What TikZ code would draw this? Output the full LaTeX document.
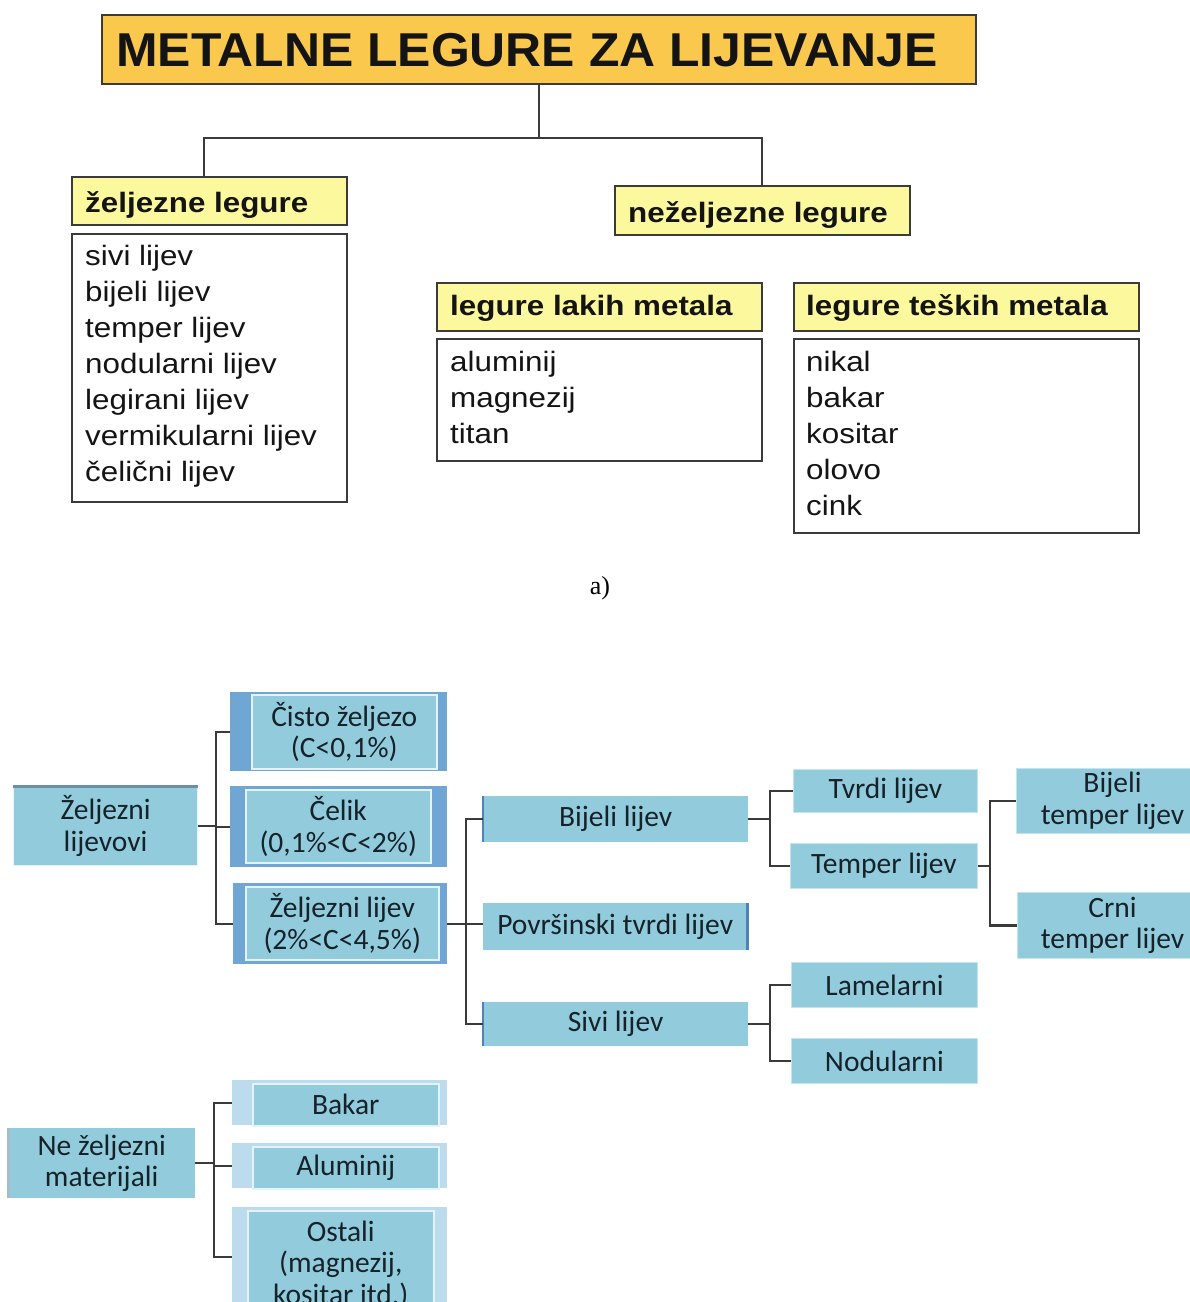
\documentclass[tikz,border=0pt]{standalone}
\usepackage{fontspec}
\newfontfamily\arfont[FakeStretch=1.12]{Liberation Sans}
\newfontfamily\titlefont[FakeStretch=1.05]{Liberation Sans}
\newfontfamily\calfont{Carlito}
\newfontfamily\serfont{Liberation Serif}
\definecolor{gold}{HTML}{F9C84C}
\definecolor{yel}{HTML}{FBF89E}
\definecolor{edge}{HTML}{3B3B3B}
\definecolor{lb}{HTML}{92CCDC}
\definecolor{mb}{HTML}{6FA6D4}
\definecolor{pb}{HTML}{BCDCEE}
\definecolor{wb}{HTML}{E4F3F9}
\definecolor{fb}{HTML}{C6E4EE}
\definecolor{db}{HTML}{4F81BD}
\definecolor{gb}{HTML}{6C8FA8}
\definecolor{ink}{HTML}{16222A}
\definecolor{conncol}{HTML}{3A3A3A}
\begin{document}
\begin{tikzpicture}[x=1pt,y=-1pt,
  tbox/.style={draw=edge,line width=1.6pt,anchor=north west,inner sep=0pt},
  head/.style={anchor=base west,inner sep=0pt,font=\arfont\bfseries\fontsize{28}{34}\selectfont,text=black!92},
  lst/.style={anchor=base west,inner sep=0pt,font=\arfont\fontsize{28}{34}\selectfont,text=black!92},
  topline/.style={draw=edge,line width=1.4pt},
  bb/.style={anchor=north west,inner sep=0pt,align=center,text=ink,font=\calfont\fontsize{29.5}{31.5}\selectfont},
  lbox/.style={bb,fill=lb},
  innerbox/.style={bb,fill=lb,draw=wb,line width=1.5pt},
  flbox/.style={bb,fill=lb,draw=fb,line width=1pt},
  conn/.style={draw=conncol,line width=2.2pt}]
\useasboundingbox (0,0) rectangle (1190,1302);
\clip (0,0) rectangle (1190,1302);
\fill[white] (0,0) rectangle (1190,1302);

% ---------- part a ----------
\node[tbox,fill=gold,minimum width=874pt,minimum height=69pt] (title) at (101,14) {};
\node[anchor=base west,inner sep=0pt,font=\titlefont\bfseries\fontsize{47.5}{50}\selectfont,text=black!92] (ttl) at (116,66) {METALNE LEGURE ZA LIJEVANJE};

\node[tbox,fill=yel,minimum width=275pt,minimum height=48pt] (zlh) at (71,176) {};
\node[head] (zlht) at (85,212) {željezne legure};
\node[tbox,fill=white,minimum width=275pt,minimum height=268pt] (zll) at (71,233) {};
\foreach \t [count=\i] in {sivi lijev,bijeli lijev,temper lijev,nodularni lijev,legirani lijev,vermikularni lijev,čelični lijev}
  \node[lst] (zl\i) at (85,{229+36*\i}) {\t};

\node[tbox,fill=yel,minimum width=295pt,minimum height=49pt] (nzh) at (614,185) {};
\node[head] (nzht) at (628,222) {neželjezne legure};

\node[tbox,fill=yel,minimum width=325pt,minimum height=48pt] (lkh) at (436,282) {};
\node[head] (lkht) at (450,315) {legure lakih metala};
\node[tbox,fill=white,minimum width=325pt,minimum height=122pt] (lkl) at (436,338) {};
\foreach \t [count=\i] in {aluminij,magnezij,titan}
  \node[lst] (lk\i) at (450,{335+36*\i}) {\t};

\node[tbox,fill=yel,minimum width=345pt,minimum height=48pt] (tkh) at (793,282) {};
\node[head] (tkht) at (806,315) {legure teških metala};
\node[tbox,fill=white,minimum width=345pt,minimum height=194pt] (tkl) at (793,338) {};
\foreach \t [count=\i] in {nikal,bakar,kositar,olovo,cink}
  \node[lst] (tk\i) at (806,{335+36*\i}) {\t};

\coordinate (bl) at (204,138);
\coordinate (br) at (762,138);
\draw[topline] (title.south) -- (title.south |- bl);
\draw[topline] (bl |- zlh.north) -- (bl) -- (br) -- (br |- nzh.north);

\node[anchor=base,inner sep=0pt,font=\serfont\fontsize{26}{28}\selectfont] (lab) at (600,594) {a)};

% ---------- part b ----------
\node[lbox,draw=wb,line width=1.2pt,minimum width=184pt,minimum height=79pt] (zlv) at (13,786) {Željezni\\lijevovi};
\draw[gb,line width=3pt] (zlv.north west) -- (zlv.north east);

\node[bb,fill=mb,minimum width=217pt,minimum height=79pt] (cz-o) at (230,692) {};
\node[innerbox,minimum width=185pt,minimum height=74pt] (cz) at (251,694) {Čisto željezo\\(C<0,1\%)};
\node[bb,fill=mb,minimum width=217pt,minimum height=81pt] (cel-o) at (230,786) {};
\node[innerbox,minimum width=185pt,minimum height=73pt] (cel) at (245,789) {Čelik\\(0,1\%<C<2\%)};
\node[bb,fill=mb,minimum width=214pt,minimum height=81pt] (zlj-o) at (233,883) {};
\node[innerbox,minimum width=193pt,minimum height=73pt] (zlj) at (245,886) {Željezni lijev\\(2\%<C<4,5\%)};

\node[lbox,minimum width=265pt,minimum height=46pt] (bl1) at (483,796) {Bijeli lijev};
\draw[db,line width=2.5pt] (bl1.north west) -- (bl1.south west);
\node[lbox,minimum width=264pt,minimum height=47pt] (pov) at (483,903) {Površinski tvrdi lijev};
\draw[db,line width=2.5pt] (pov.north east) -- (pov.south east);
\node[lbox,minimum width=265pt,minimum height=44pt] (sl) at (483,1002) {Sivi lijev};
\draw[db,line width=2.5pt] (sl.north west) -- (sl.south west);

\node[flbox,minimum width=184pt,minimum height=43pt] (tv) at (793,769) {Tvrdi lijev};
\node[flbox,minimum width=187pt,minimum height=45pt] (tl) at (790,843) {Temper lijev};
\node[flbox,minimum width=192pt,minimum height=65pt] (btl) at (1016,768) {Bijeli\\temper lijev};
\node[flbox,minimum width=190pt,minimum height=66pt] (ctl) at (1017,892) {Crni\\temper lijev};
\node[flbox,minimum width=186pt,minimum height=45pt] (lam) at (791,962) {Lamelarni};
\node[flbox,minimum width=186pt,minimum height=45pt] (nod) at (791,1038) {Nodularni};

\node[lbox,minimum width=187pt,minimum height=70pt] (nzm) at (8,1128) {Ne željezni\\materijali};
\draw[gb!60,line width=3pt] (nzm.north west) -- (nzm.south west);
\node[bb,fill=pb,minimum width=215pt,minimum height=45pt] (bak-o) at (232,1080) {};
\node[innerbox,minimum width=186pt,minimum height=42pt] (bak) at (252,1083) {Bakar};
\node[bb,fill=pb,minimum width=215pt,minimum height=45pt] (alu-o) at (232,1143) {};
\node[innerbox,minimum width=186pt,minimum height=42pt] (alu) at (252,1146) {Aluminij};
\node[bb,fill=pb,minimum width=215pt,minimum height=100pt] (ost-o) at (232,1207) {};
\node[innerbox,minimum width=186pt,minimum height=108pt] (ost) at (247,1210) {Ostali\\(magnezij,\\kositar itd.)};

% connectors
\coordinate (b1) at (216,0);
\draw[conn] (zlv.east) -- (zlv.east -| b1);
\draw[conn] (cz-o.west) -| (b1 |- zlj-o.west) -- (zlj-o.west);
\draw[conn] (cel-o.west) -- (cel-o.west -| b1);

\coordinate (b2) at (466,0);
\draw[conn] (zlj-o.east) -- (zlj-o.east -| pov.west);
\draw[conn] (bl1.west) -| (b2 |- sl.west) -- (sl.west);

\coordinate (b3) at (770,0);
\draw[conn] (bl1.east) -- (bl1.east -| b3);
\draw[conn] (tv.west) -| (b3 |- tl.west) -- (tl.west);
\draw[conn] (sl.east) -- (sl.east -| b3);
\draw[conn] (lam.west) -| (b3 |- nod.west) -- (nod.west);

\coordinate (b4) at (990,0);
\draw[conn] (tl.east) -- (tl.east -| b4);
\draw[conn] (btl.west) -| (b4 |- ctl.west) -- (ctl.west);

\coordinate (b5) at (214,0);
\draw[conn] (nzm.east) -- (nzm.east -| b5);
\draw[conn] (bak-o.west) -| (b5 |- ost-o.west) -- (ost-o.west);
\draw[conn] (alu-o.west) -- (alu-o.west -| b5);
\end{tikzpicture}
\end{document}
